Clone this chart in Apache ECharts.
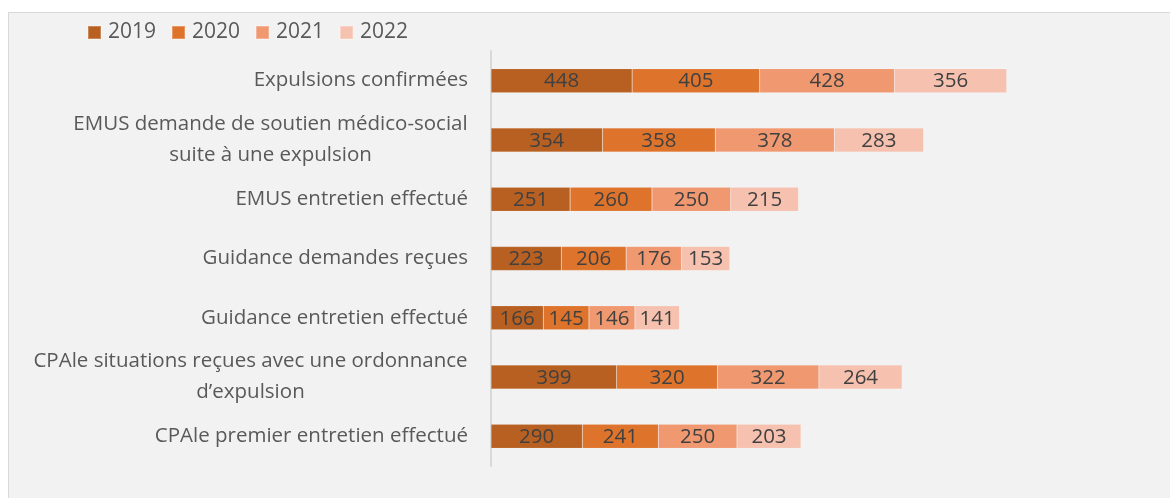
<!DOCTYPE html>
<html>
<head>
<meta charset="utf-8">
<script src="https://cdn.jsdelivr.net/npm/echarts@6/dist/echarts.min.js"></script>
<style>
  html, body { margin: 0; padding: 0; background: #fff; overflow: hidden; }
  .box {
    position: absolute; left: 8px; top: 12px; width: 1200px; height: 520px;
    background: #f2f2f2; border-top: 1px solid #d9d9d9; border-left: 1px solid #d9d9d9;
  }
  #chart { position: absolute; left: 0; top: 0; width: 1170px; height: 498px; }
</style>
</head>
<body>
<div class="box"></div>
<div id="chart"></div>
<script>
  var categories = [
    'Expulsions confirmées',
    'EMUS demande de soutien médico-social\nsuite à une expulsion',
    'EMUS entretien effectué',
    'Guidance demandes reçues',
    'Guidance entretien effectué',
    'CPAle situations reçues avec une ordonnance\nd\u2019expulsion',
    'CPAle premier entretien effectué'
  ];
  var years = ['2019', '2020', '2021', '2022'];
  var v2019 = [448, 354, 251, 223, 166, 399, 290];
  var v2020 = [405, 358, 260, 206, 145, 320, 241];
  var v2021 = [428, 378, 250, 176, 146, 322, 250];
  var v2022 = [356, 283, 215, 153, 141, 264, 203];

  var colors = ['#b86022', '#de732c', '#f09870', '#f6c1ae'];
  var font = '"Open Sans", "Noto Sans", sans-serif';
  var labelSize = 20.5;

  // measure text so wrapped labels can be centred line by line
  var ctx = document.createElement('canvas').getContext('2d');
  ctx.font = labelSize + 'px ' + font;
  function textW(s) { return Math.ceil(ctx.measureText(s).width); }

  // one rich style per wrapped label, as wide as its longest line
  var rich = {};
  categories.forEach(function (c, i) {
    var parts = c.split('\n');
    if (parts.length < 2) return;
    var w = 0;
    parts.forEach(function (p) { w = Math.max(w, textW(p)); });
    rich['c' + i] = { align: 'center', width: w, fontSize: labelSize, lineHeight: 31, color: '#595959', fontFamily: font };
  });

  var chart = echarts.init(document.getElementById('chart'));

  function bar(name, data, color) {
    return {
      name: name,
      type: 'bar',
      stack: 'total',
      barWidth: 24,
      data: data,
      itemStyle: { color: color, borderColor: 'rgba(255,255,255,0.25)', borderWidth: 0.5 },
      label: {
        show: true,
        position: 'inside',
        color: '#404040',
        fontSize: 20.5,
        fontFamily: font,
        offset: [0, 1]
      }
    };
  }

  var option = {
    animation: false,
    textStyle: { fontFamily: font },
    legend: {
      data: years,
      left: 87,
      top: 22,
      padding: 0,
      itemWidth: 13,
      itemHeight: 13,
      itemGap: 15,
      icon: 'rect',
      textStyle: { color: '#595959', fontSize: 21, fontFamily: font, padding: [0, 0, 0, 2] }
    },
    grid: { left: 491, top: 51, height: 415, width: 630, containLabel: false },
    xAxis: {
      type: 'value',
      min: 0,
      max: 2000,
      show: false
    },
    yAxis: {
      type: 'category',
      inverse: true,
      data: categories,
      axisLine: { show: true, lineStyle: { color: '#d9d9d9', width: 2 } },
      axisTick: { show: false },
      axisLabel: {
        margin: 23,
        color: '#595959',
        fontSize: labelSize,
        fontFamily: font,
        formatter: function (val, idx) {
          var lines = val.split('\n');
          if (lines.length === 1) return val;
          return lines.map(function (l) { return '{c' + idx + '|' + l + '}'; }).join('\n');
        },
        rich: rich
      }
    },
    series: [
      bar(years[0], v2019, colors[0]),
      bar(years[1], v2020, colors[1]),
      bar(years[2], v2021, colors[2]),
      bar(years[3], v2022, colors[3])
    ]
  };

  chart.setOption(option);
</script>
</body>
</html>
